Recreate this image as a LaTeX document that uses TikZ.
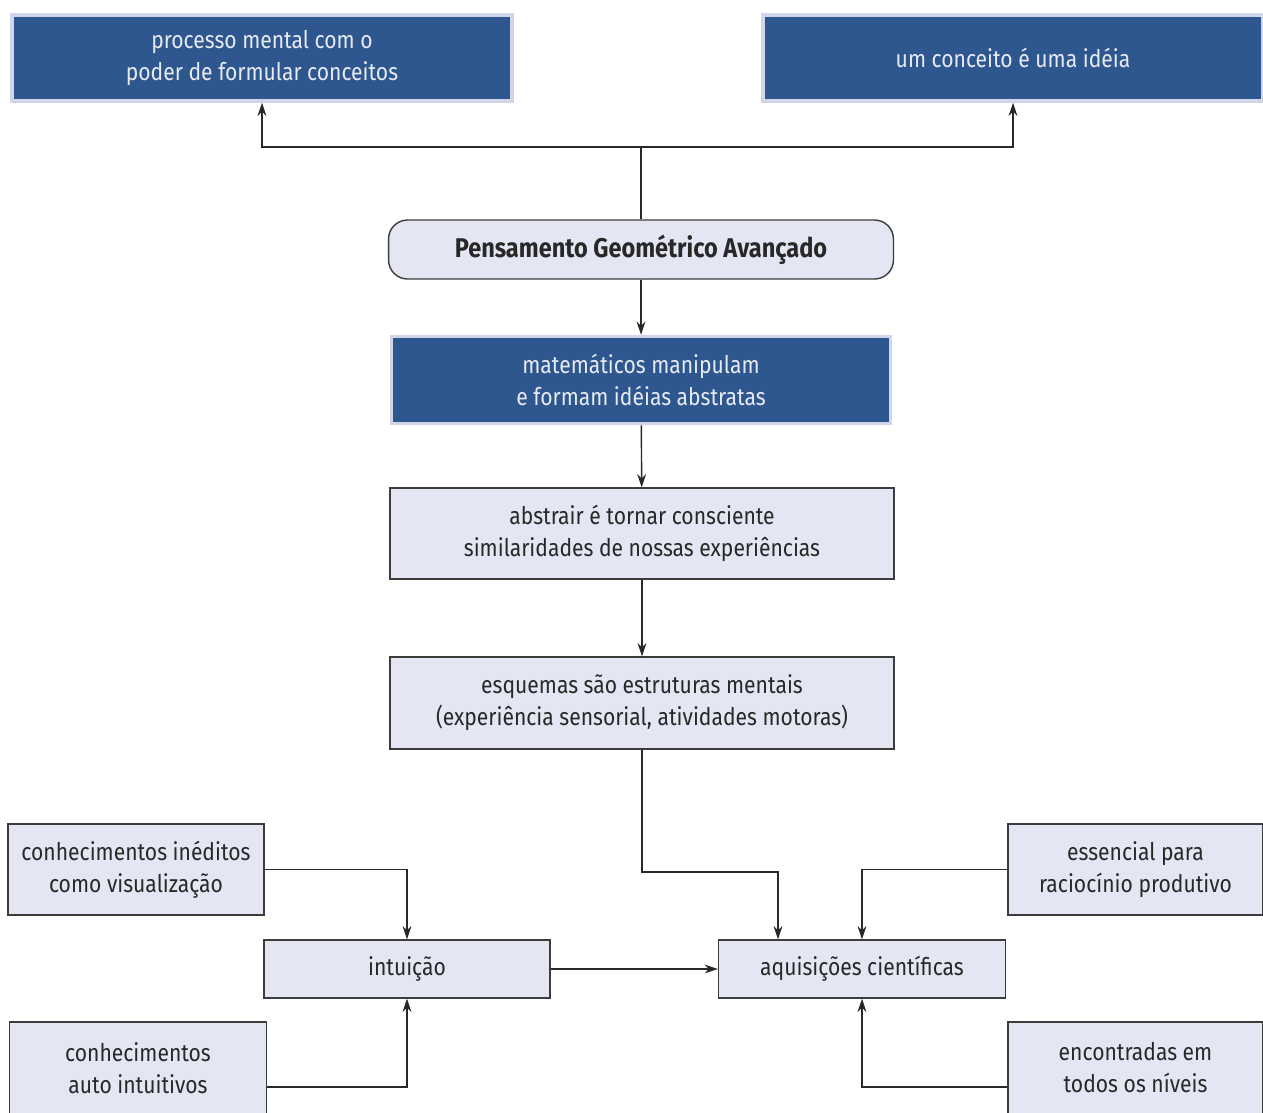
\documentclass[tikz,border=0pt]{standalone}
\usepackage{fontspec}
\setmainfont{Fira Sans}[FakeStretch=0.87]
\usepackage{tikz}
\usetikzlibrary{arrows.meta}
\usepackage{xcolor}
\definecolor{darkbox}{RGB}{46,86,143}
\definecolor{halo}{RGB}{208,214,232}
\definecolor{lightbox}{RGB}{228,231,243}
\definecolor{boxline}{RGB}{60,60,60}
\definecolor{ink}{RGB}{40,40,40}

\begin{document}
\begin{tikzpicture}[x=0.02cm,y=-0.02cm,
    font=\fontsize{13.8}{18.2}\selectfont,
    >={Stealth[length=7.5pt,width=5pt]},
    dark/.style={fill=darkbox,draw=halo,line width=2pt,text=white!88!darkbox,align=center,inner sep=0pt},
    light/.style={fill=lightbox,draw=boxline,line width=0.8pt,text=ink,align=center,inner sep=0pt},
    link/.style={->,draw=ink,line width=0.8pt}]
    \useasboundingbox (0,0) rectangle (1263,1112);
    \fill[white] (0,0) rectangle (1263,1112);

    \node[dark,minimum width=10.0cm,minimum height=1.72cm] (proc) at (262,58) {processo mental com o\\poder de formular conceitos};
    \node[dark,minimum width=10.0cm,minimum height=1.72cm] (conc) at (1013,58) {um conceito é uma idéia};
    \node[light,rounded corners=0.38cm,minimum width=10.1cm,minimum height=1.18cm] (pga) at (641,249.5) {\fontsize{15.4}{18}\selectfont\bfseries Pensamento Geométrico Avançado};
    \node[dark,minimum width=9.98cm,minimum height=1.74cm] (mat) at (641,380) {matemáticos manipulam\\e formam idéias abstratas};
    \node[light,minimum width=10.08cm,minimum height=1.82cm] (abs) at (642,533.5) {abstrair é tornar consciente\\similaridades de nossas experiências};
    \node[light,minimum width=10.08cm,minimum height=1.84cm] (esq) at (642,703) {esquemas são estruturas mentais\\(experiência sensorial, atividades motoras)};

    \node[light,minimum width=5.12cm,minimum height=1.82cm] (ined) at (136,869.5) {conhecimentos inéditos\\como visualização};
    \node[light,minimum width=5.72cm,minimum height=1.16cm] (intu) at (407,969) {intuição};
    \node[light,minimum width=5.14cm,minimum height=1.84cm] (auto) at (138,1068) {conhecimentos\\auto intuitivos};
    \node[light,minimum width=5.74cm,minimum height=1.16cm] (aqui) at (862,969) {aquisições científicas};
    \node[light,minimum width=5.1cm,minimum height=1.82cm] (ess) at (1135.5,869.5) {essencial para\\raciocínio produtivo};
    \node[light,minimum width=5.1cm,minimum height=1.84cm] (enc) at (1135.5,1068) {encontradas em\\todos os níveis};

    % top branch
    \coordinate (top) at (641,147);
    \draw[link,-] (pga) -- (top);
    \draw[link] (top) -| (proc);
    \draw[link] (top) -| (conc);

    % main column
    \draw[link] (pga) -- (mat);
    \draw[link] (mat) -- (abs);
    \draw[link] (abs) -- (esq);
    \coordinate (bend) at (778,872);
    \draw[link] (esq) |- (bend) -- (bend |- aqui.north);

    % bottom rows
    \draw[link] (ined) -| (intu);
    \draw[link] ([yshift=-0.38cm]auto.east) -| (intu);
    \draw[link] (intu) -- (aqui);
    \draw[link] (ess) -| (aqui);
    \draw[link] ([yshift=-0.38cm]enc.west) -| (aqui);
\end{tikzpicture}
\end{document}
